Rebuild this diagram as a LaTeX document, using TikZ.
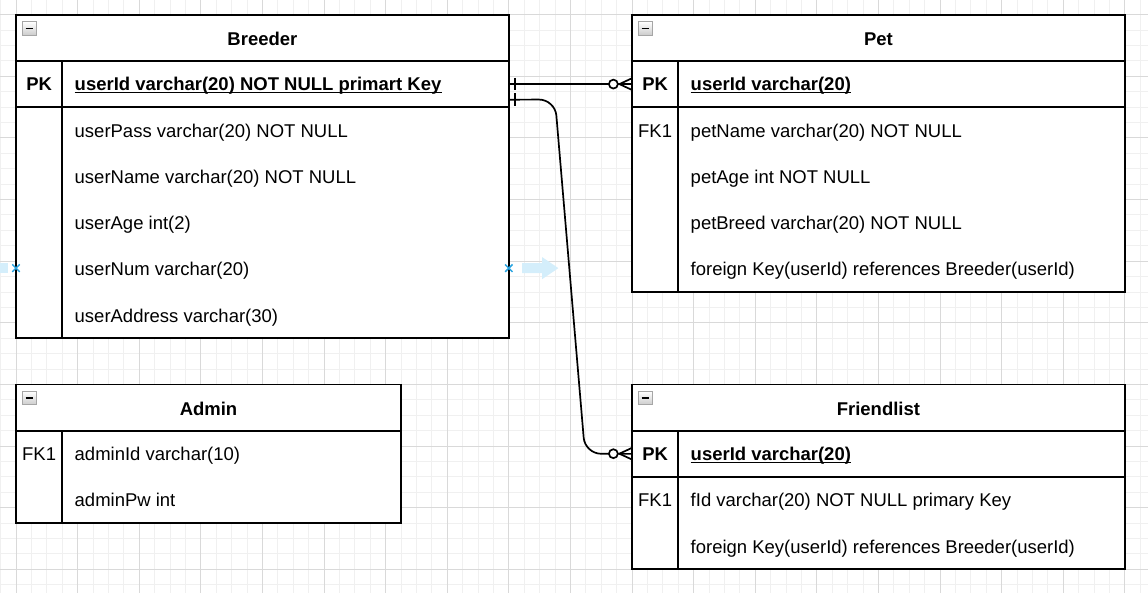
\documentclass[tikz,border=0pt]{standalone}
\usepackage{fontspec}
\setmainfont{Liberation Sans}
\newcommand{\erfs}{\fontsize{18.48}{22}\selectfont}
\definecolor{minorgrid}{HTML}{F0F0F0}
\definecolor{majorgrid}{HTML}{D9D9D9}
\definecolor{hoverblue}{HTML}{29A3E0}
\definecolor{hoverarrow}{HTML}{D4EEFB}
\begin{document}
\begin{tikzpicture}[x=1.54pt,y=-1.54pt,
  box/.style={draw=black, line width=1.8pt, fill=white},
  sep/.style={draw=black, line width=1.8pt},
  keytxt/.style={anchor=base, inner sep=0pt, font=\erfs},
  fld/.style={anchor=base west, inner sep=0pt, font=\erfs},
  ttl/.style={anchor=base, inner sep=0pt, font=\erfs\bfseries},
  rowbox/.style={rectangle, inner sep=0pt, minimum width=492.8pt, minimum height=46.2pt, anchor=north west},
  conn/.style={draw=black, line width=1.7pt},
  ulinestyle/.style={draw=black, line width=1.4pt},
  minusicon/.pic={
    \draw[draw=gray!70, line width=0.9pt, top color=white, bottom color=gray!40] (4.3,4.5) rectangle (13.2,13.2);
    \draw[black, line width=1.7pt] (6.2,8.85) -- (11.3,8.85);
  }]
\useasboundingbox (-10.39,-9.61) rectangle (735.06,375.45);
% grid
\begin{scope}
\clip (-10.39,-9.61) rectangle (735.06,375.45);
\foreach \i in {-1,...,74} \draw[minorgrid, line width=1pt] (\i*10,-10) -- (\i*10,376);
\foreach \i in {-1,...,38} \draw[minorgrid, line width=1pt] (-11,\i*10) -- (736,\i*10);
\foreach \i in {0,...,18} \draw[majorgrid, line width=1pt] (\i*40,-10) -- (\i*40,376);
\foreach \i in {0,...,9} \draw[majorgrid, line width=1pt] (-11,\i*40) -- (736,\i*40);
\end{scope}

% ---------- Breeder ----------
\draw[box] (0,0) rectangle (320,210);
\draw[sep] (0,30) -- (320,30);
\draw[sep] (0,60) -- (320,60);
\draw[sep] (30,30) -- (30,210);
\pic at (0,0) {minusicon};
\node[rowbox] (breederpk) at (0,30) {};
\node[ttl] (breedertitle) at (160,20) {Breeder};
\node[keytxt, font=\erfs\bfseries] (breederpkkey) at (15,49.3) {PK};
\node[fld, font=\erfs\bfseries] (breederpkfld) at (38,49.3) {userId varchar(20) NOT NULL primart Key};
\draw[ulinestyle] ([yshift=-2pt]breederpkfld.base west) -- ([yshift=-2pt]breederpkfld.base east);
\node[fld] (bf1) at (38,79.6) {userPass varchar(20) NOT NULL};
\node[fld] (bf2) at (38,109.6) {userName varchar(20) NOT NULL};
\node[fld] (bf3) at (38,139.6) {userAge int(2)};
\node[fld] (bf4) at (38,169.6) {userNum varchar(20)};
\node[fld] (bf5) at (38,199.6) {userAddress varchar(30)};

% ---------- Pet ----------
\draw[box] (400,0) rectangle (720,180);
\draw[sep] (400,30) -- (720,30);
\draw[sep] (400,60) -- (720,60);
\draw[sep] (430,30) -- (430,180);
\pic at (400,0) {minusicon};
\node[rowbox] (petpk) at (400,30) {};
\node[ttl] (pettitle) at (560,20) {Pet};
\node[keytxt, font=\erfs\bfseries] (petpkkey) at (415,49.3) {PK};
\node[fld, font=\erfs\bfseries] (petpkfld) at (438,49.3) {userId varchar(20)};
\draw[ulinestyle] ([yshift=-2pt]petpkfld.base west) -- ([yshift=-2pt]petpkfld.base east);
\node[keytxt] (petfk) at (415,79.6) {FK1};
\node[fld] (pf1) at (438,79.6) {petName varchar(20) NOT NULL};
\node[fld] (pf2) at (438,109.6) {petAge int NOT NULL};
\node[fld] (pf3) at (438,139.6) {petBreed varchar(20) NOT NULL};
\node[fld] (pf4) at (438,169.6) {foreign Key(userId) references Breeder(userId)};

% ---------- Admin ----------
\draw[box] (0,240) rectangle (250,330);
\draw[sep] (0,270) -- (250,270);
\draw[sep] (30,270) -- (30,330);
\pic at (0,240) {minusicon};
\node[ttl] (admintitle) at (125,260) {Admin};
\node[keytxt] (adminfk) at (15,289.6) {FK1};
\node[fld] (af1) at (38,289.6) {adminId varchar(10)};
\node[fld] (af2) at (38,319.6) {adminPw int};

% ---------- Friendlist ----------
\draw[box] (400,240) rectangle (720,360);
\draw[sep] (400,270) -- (720,270);
\draw[sep] (400,300) -- (720,300);
\draw[sep] (430,270) -- (430,360);
\pic at (400,240) {minusicon};
\node[rowbox] (friendpk) at (400,270) {};
\node[ttl] (friendtitle) at (560,260) {Friendlist};
\node[keytxt, font=\erfs\bfseries] (friendpkkey) at (415,289.3) {PK};
\node[fld, font=\erfs\bfseries] (friendpkfld) at (438,289.3) {userId varchar(20)};
\draw[ulinestyle] ([yshift=-2pt]friendpkfld.base west) -- ([yshift=-2pt]friendpkfld.base east);
\node[keytxt] (friendfk) at (415,319.6) {FK1};
\node[fld] (ff1) at (438,319.6) {fId varchar(20) NOT NULL primary Key};
\node[fld] (ff2) at (438,349.6) {foreign Key(userId) references Breeder(userId)};

% ---------- connectors ----------
\coordinate (b2start) at ([yshift=-15.4pt]breederpk.east);
\draw[conn] (breederpk.east) -- (petpk.west);
\draw[conn, rounded corners=16pt] (b2start) -- (350,55) -- (369.5,285) -- (friendpk.west);
% one markers
\draw[conn] (324,41) -- (324,49);
\draw[conn] (324,51) -- (324,59);
% zero-to-many markers
\draw[conn] (391.8,45) -- (400,41.2);
\draw[conn] (391.8,45) -- (400,48.8);
\draw[conn, fill=white] (387.9,45) circle[radius=2.9];
\draw[conn] (391.8,285) -- (400,281.2);
\draw[conn] (391.8,285) -- (400,288.8);
\draw[conn, fill=white] (387.9,285) circle[radius=2.9];

% ---------- hover hints ----------
\fill[hoverarrow] (-10.5,161.2) rectangle (-5.2,167.6);
\fill[hoverarrow] (328.6,161.3) -- (341.6,161.3) -- (341.6,157.3) -- (352.2,164.5) -- (341.6,171.7) -- (341.6,167.7) -- (328.6,167.7) -- cycle;
\draw[hoverblue, line width=1.5pt] (-2.4,162.1) -- (2.4,166.9) (-2.4,166.9) -- (2.4,162.1);
\draw[hoverblue, line width=1.5pt] (317.6,162.1) -- (322.4,166.9) (317.6,166.9) -- (322.4,162.1);
\end{tikzpicture}
\end{document}
